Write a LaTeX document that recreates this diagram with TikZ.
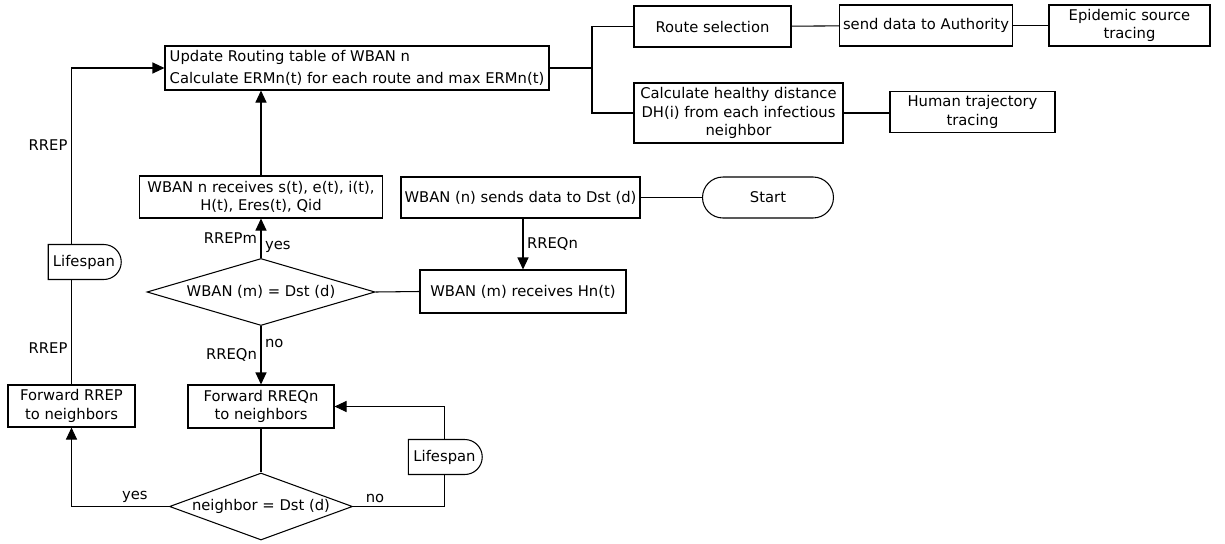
\documentclass[tikz,border=0pt]{standalone}
\usepackage{fontspec}
\setmainfont{DejaVu Sans}
\usetikzlibrary{math, calc, arrows.meta, shapes.geometric, shapes.misc}

\begin{document}
\begin{tikzpicture}[line width=0.6pt, font=\fontsize{8.4}{10.6}\selectfont,
    box/.style={draw, align=center, inner sep=2pt},
    term/.style={draw, rounded rectangle, inner sep=2pt},
    delay/.style={draw, fill=white, rounded rectangle, rounded rectangle left arc=none,
        minimum height=0.7cm, inner sep=2pt},
    decision/.style={draw, diamond, inner sep=0pt, aspect=3},
    arrow/.style={-{Triangle[length=2.4mm, width=2.2mm]}},
    lbl/.style={inner sep=2pt}]
    \tikzmath{
        \colmain=5.22;
        \colleft=1.43;
        \colright=10.46;
        \colbranch=11.84;
    }

    \useasboundingbox (0, 0) rectangle (24.5, -10.88);

    % routing table and tracing
    \node [box, align=left, font=\fontsize{8.4}{12.5}\selectfont, minimum width=7.68cm, minimum height=0.88cm]
        (upd) at (7.14, -1.36)
        {Update Routing table of WBAN n\\Calculate ERMn(t) for each route and max ERMn(t)};
    \node [box, minimum width=3.14cm, minimum height=0.82cm] (route) at (14.25, -0.53) {Route selection};
    \node [box, minimum width=3.44cm, minimum height=0.82cm] (auth) at (18.52, -0.51) {send data to Authority};
    \node [box, minimum width=3.22cm, minimum height=0.82cm] (epid) at (22.59, -0.51) {Epidemic source\\tracing};
    \node [box, minimum width=4.18cm, minimum height=1.2cm] (healthy) at (14.77, -2.26)
        {Calculate healthy distance\\DH(i) from each infectious\\neighbor};
    \node [box, minimum width=3.3cm, minimum height=0.82cm] (human) at (19.45, -2.24) {Human trajectory\\tracing};
    \coordinate (br) at (\colbranch, -1.36);

    % request side
    \node [box, minimum width=4.86cm, minimum height=0.84cm] (rcvn) at (\colmain, -3.94)
        {WBAN n receives s(t), e(t), i(t),\\H(t), Eres(t), Qid};
    \node [box, minimum width=4.78cm, minimum height=0.82cm] (sendn) at (10.41, -3.95) {WBAN (n) sends data to Dst (d)};
    \node [term, minimum width=2.76cm, minimum height=0.82cm] (start) at (15.36, -3.95) {Start};
    \node [box, minimum width=4.12cm, minimum height=0.86cm] (rcvm) at (\colright, -5.83) {WBAN (m) receives Hn(t)};
    \node [decision, minimum width=4.56cm, minimum height=1.34cm] (dec1) at (\colmain, -5.84) {WBAN (m) = Dst (d)};
    \node [box, minimum width=2.92cm, minimum height=0.86cm] (fwdq) at (\colmain, -8.13) {Forward RREQn\\to neighbors};
    \node [box, minimum width=2.54cm, minimum height=0.84cm] (fwdp) at (\colleft, -8.12) {Forward RREP\\to neighbors};
    \node [decision, minimum width=3.66cm, minimum height=1.34cm] (dec2) at (\colmain, -10.13) {neighbor = Dst (d)};
    \node [delay, minimum width=1.62cm] (life2) at (8.89, -9.14) {Lifespan};
    \node [delay, minimum width=1.6cm] (life1) at (1.68, -5.24) {Lifespan};

    % branches
    \draw (upd.east) -- (br);
    \draw (route.west) -| (br) |- (healthy.west);
    \draw (route) -- (auth);
    \draw (auth) -- (epid);
    \draw (healthy.east) -- (healthy.east -| human.west);
    \draw (start) -- (sendn);

    % flow
    \draw [arrow] (rcvn.north) -- (rcvn.north |- upd.south);
    \draw [arrow] (rcvm.north |- sendn.south) -- node [lbl, right] (l-rreqa) {RREQn} (rcvm.north);
    \draw (dec1.east) -- (rcvm.west);
    \draw [arrow] (dec1.north) -- node [lbl, right, pos=0.27] (l-yesa) {yes}
        node [lbl, left] (l-rrepm) {RREPm} (rcvn.south);
    \draw [arrow] (dec1.south) -- node [lbl, right, pos=0.29] (l-noa) {no}
        node [lbl, left, pos=0.5] (l-rreqb) {RREQn} (fwdq.north);
    \draw (fwdq.south) -- (dec2.north);
    \draw [arrow] (dec2.west) -- node [lbl, above, pos=0.35] (l-yesb) {yes} (dec2.west -| fwdp.south) -- (fwdp.south);
    \draw (dec2.east) -- node [lbl, above, pos=0.24] (l-nob) {no} (dec2.east -| life2.south) -- (life2.south);
    \draw [arrow] (life2.north) |- (fwdq.east);
    \draw (fwdp.north) -- node [lbl, left, pos=0.35] (l-rrepb) {RREP} (fwdp.north |- life1.south);
    \draw [arrow] (fwdp.north |- life1.north) |- node [lbl, left, pos=0.28] (l-rrepa) {RREP} (upd.west);
\end{tikzpicture}
\end{document}
